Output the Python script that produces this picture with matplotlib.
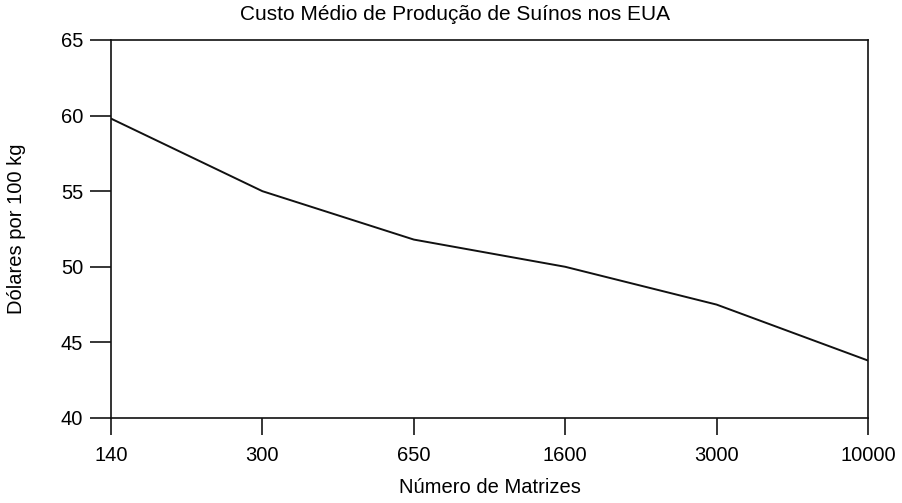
import matplotlib
matplotlib.use("Agg")
import matplotlib.pyplot as plt
import numpy as np

plt.rcParams["font.family"] = ["Liberation Sans", "DejaVu Sans"]

# Herd size classes (sows) and average production cost
matrizes = ["140", "300", "650", "1600", "3000", "10000"]
custo = [59.8, 55.0, 51.8, 50.0, 47.5, 43.8]
yticks = [40, 45, 50, 55, 60, 65]

fig = plt.figure(figsize=(9.02, 5.03), dpi=100)
ax = fig.add_axes([0.1231, 0.169, 0.8392, 0.7515])

x = np.arange(len(matrizes))
ax.plot(x, custo, color="#111111", lw=1.4)

ax.set_xlim(0, len(matrizes) - 1)
ax.set_ylim(40, 65)
ax.set_xticks(x)
ax.set_xticklabels(matrizes)
ax.set_yticks(yticks)

for s in ax.spines.values():
    s.set_linewidth(1.2)
    s.set_color("#111111")
ax.tick_params(axis="x", direction="out", length=12, width=1.1, pad=8, labelsize=14.5)
ax.tick_params(axis="y", direction="out", length=15, width=1.1, pad=5, labelsize=14.5)

ax.set_xlabel("Número de Matrizes", fontsize=14.5)
ax.set_ylabel("Dólares por 100 kg", fontsize=14.5)
ax.xaxis.set_label_coords(0.5, -0.16)
ax.yaxis.set_label_coords(-0.112, 0.5)
fig.text(455 / 902, 1 - 14 / 503, "Custo Médio de Produção de Suínos nos EUA",
         ha="center", va="center", fontsize=15)

fig.savefig("out.png", dpi=100)
